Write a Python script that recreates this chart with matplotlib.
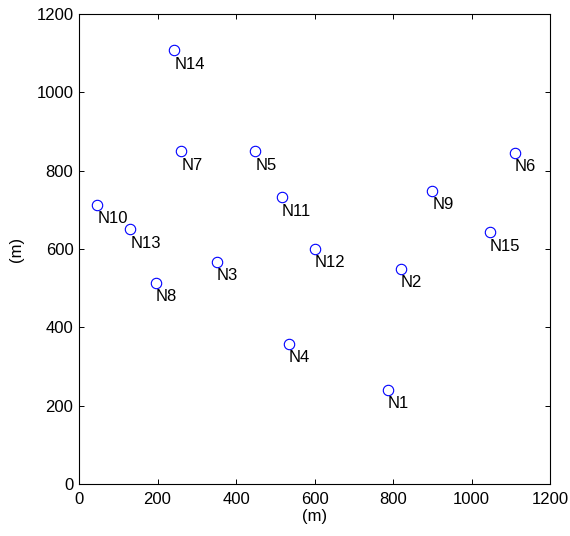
import matplotlib
matplotlib.use('Agg')
import matplotlib.pyplot as plt

plt.rcParams['font.family'] = ['Liberation Sans', 'DejaVu Sans']

# node names and positions (m)
names = ['N1', 'N2', 'N3', 'N4', 'N5', 'N6', 'N7', 'N8',
         'N9', 'N10', 'N11', 'N12', 'N13', 'N14', 'N15']
xs = [786, 820, 351, 534, 449, 1111, 261, 195, 900, 47, 517, 600, 131, 243, 1047]
ys = [240, 549, 568, 358, 849, 845, 849, 514, 749, 713, 732, 600, 650, 1107, 643]
ticks = [0, 200, 400, 600, 800, 1000, 1200]

fig = plt.figure(figsize=(5.7, 5.36), dpi=100)
ax = fig.add_axes([0.1386, 0.097, 0.8264, 0.877])

ax.plot(xs, ys, 'o', linestyle='none', markersize=7.5,
        markerfacecolor='none', markeredgecolor='blue', markeredgewidth=0.8)

for n, x, y in zip(names, xs, ys):
    ax.annotate(n, (x, y), xytext=(0, -10), textcoords='offset points',
                ha='left', va='center', fontsize=12)

ax.set_xlim(0, 1200)
ax.set_ylim(0, 1200)
ax.set_xticks(ticks)
ax.set_yticks(ticks)
ax.tick_params(direction='in', top=True, right=True, length=3.5, width=0.7,
               labelsize=12)
ax.tick_params(axis='x', pad=6)
ax.tick_params(axis='y', pad=4)
for s in ax.spines.values():
    s.set_linewidth(0.8)

ax.set_xlabel('(m)', fontsize=12, labelpad=1)
ax.set_ylabel('(m)', fontsize=12, labelpad=9)

plt.savefig('out.png', dpi=100)
